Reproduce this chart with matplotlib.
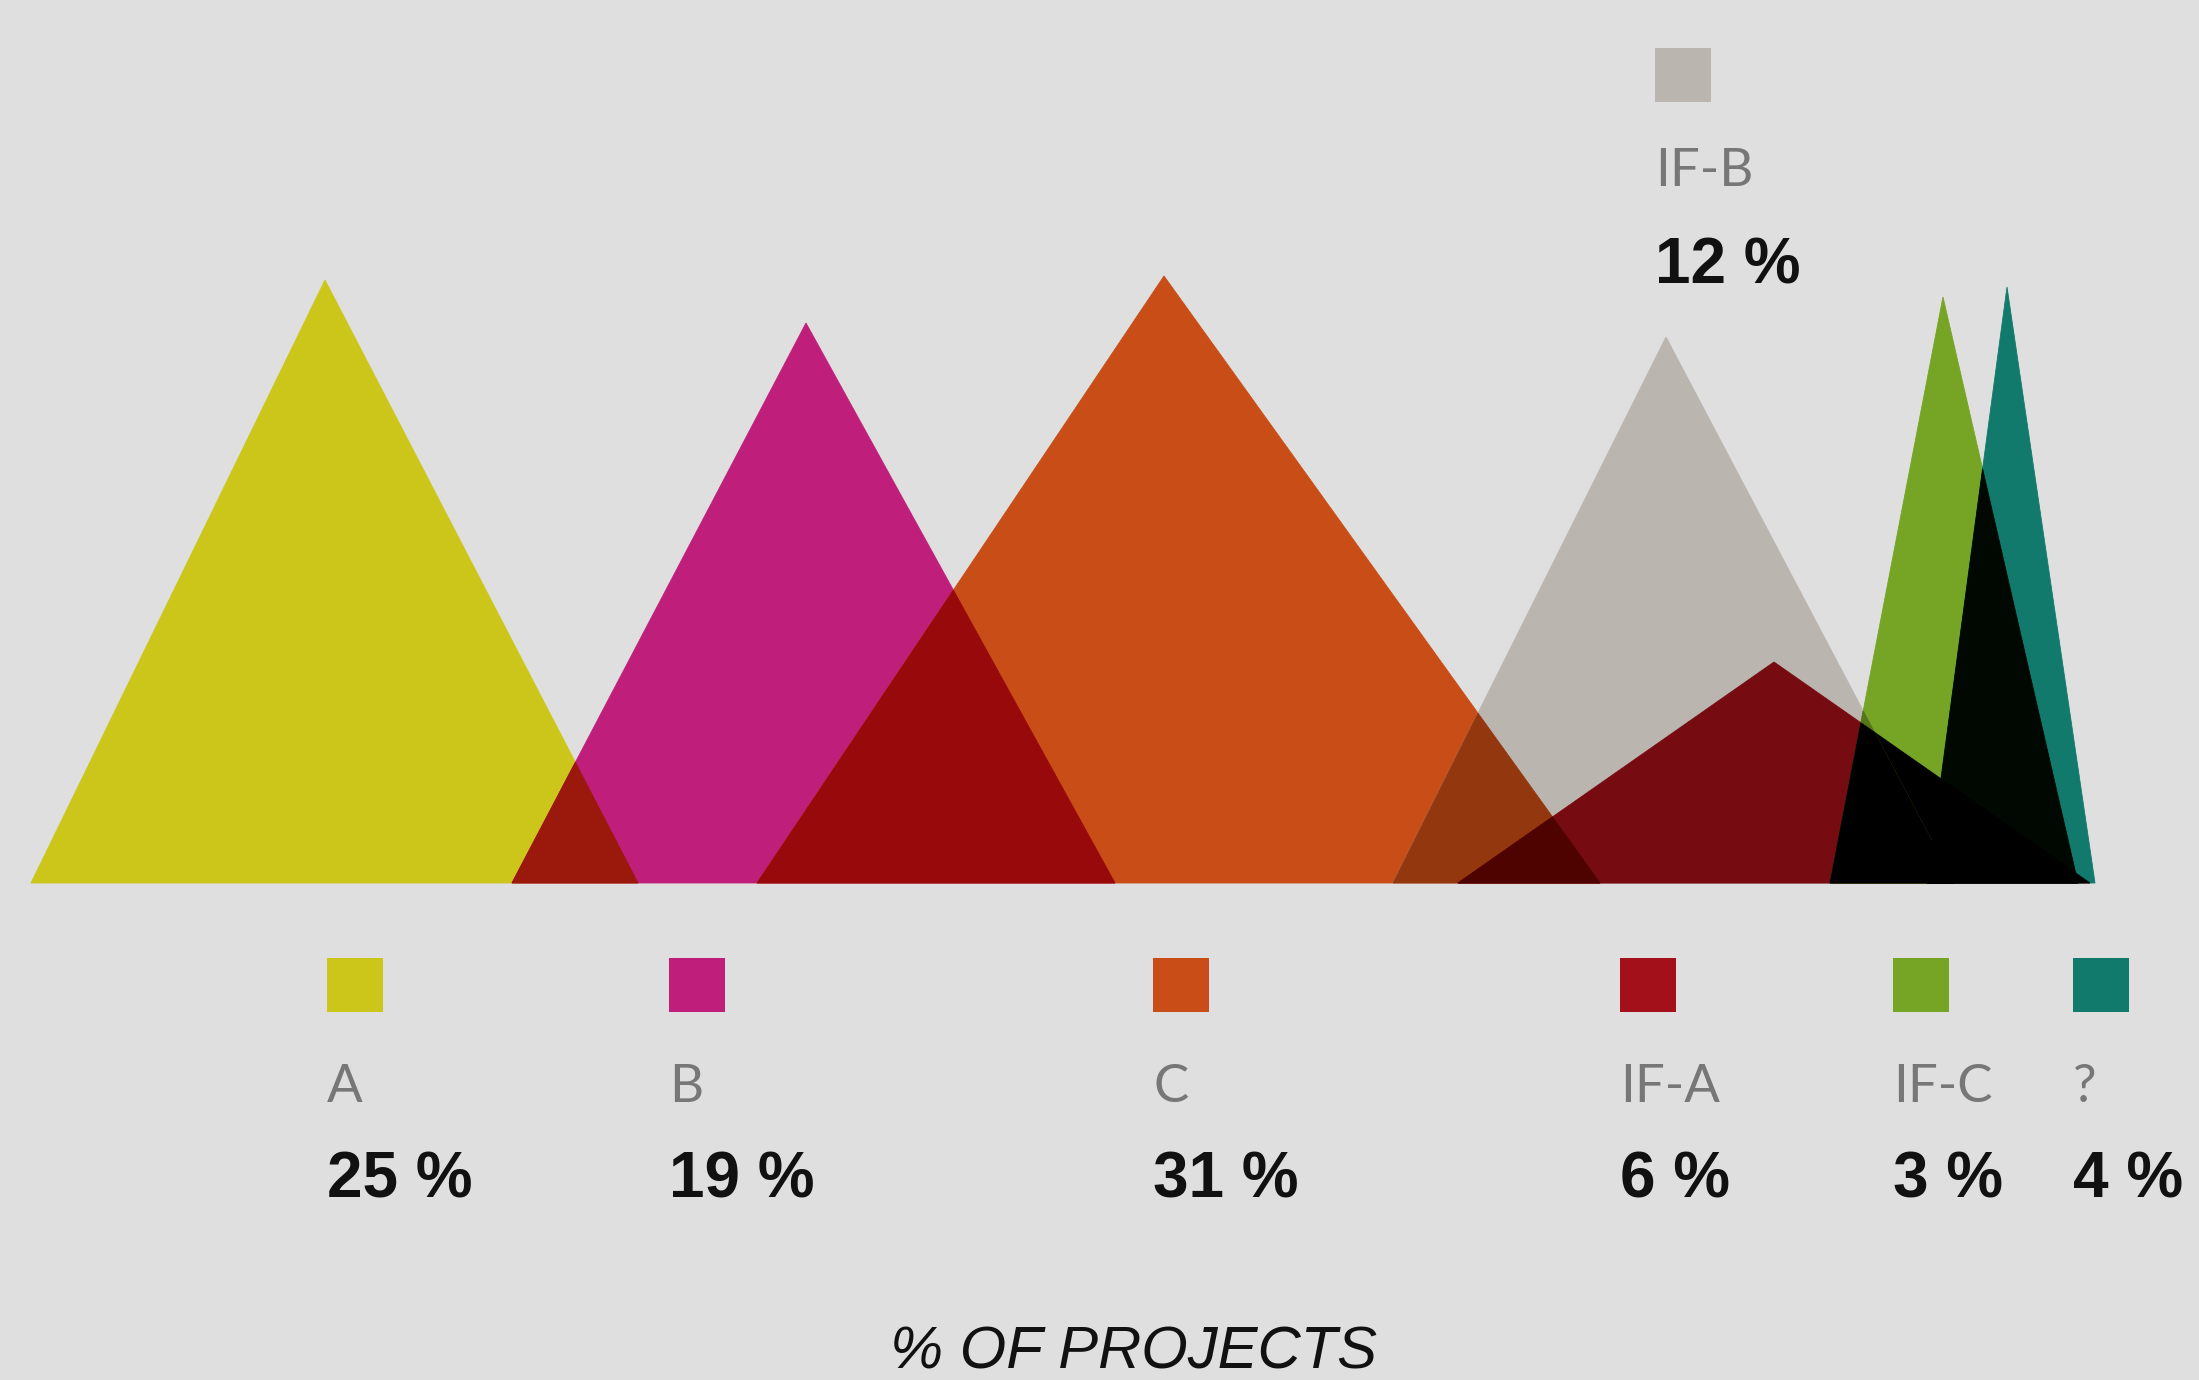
import itertools
import numpy as np
import matplotlib
matplotlib.use("Agg")
import matplotlib.pyplot as plt
from matplotlib.patches import Polygon, Rectangle
from matplotlib.colors import to_rgb

# ---------------- data ----------------
categories = ["A", "B", "C", "IF-A", "IF-B", "IF-C", "?"]
shares = [25, 19, 31, 6, 12, 3, 4]
# triangle geometry in chart units (baseline = 0)
tri_left = [31, 512, 757, 1458, 1393, 1830, 1927]
tri_peak = [325, 806, 1164, 1774, 1666, 1943, 2007]
tri_right = [638, 1115, 1600, 2090, 1954, 2078, 2095]
tri_height = [603, 560, 607, 221, 546, 586, 596]
colors = ["#cdc61a", "#bf1f7a", "#c94d16", "#a3101a", "#bab5ae", "#76a424", "#117a6c"]

# ---------------- layout ----------------
legend_x = [327, 669, 1153, 1620, 1655, 1893, 2073]
legend_low = [True, True, True, True, False, True, True]  # False -> upper block
BG = "#dedfde"
FAM = ["Liberation Sans Narrow", "Liberation Sans", "DejaVu Sans"]
FAM_LABEL = ["Lato", "Liberation Sans", "DejaVu Sans"]


def clip_poly(subject, clipper):
    """Sutherland-Hodgman clipping of a polygon by a convex CCW polygon."""
    out = list(subject)
    n = len(clipper)
    for i in range(n):
        a = np.array(clipper[i], dtype=float)
        b = np.array(clipper[(i + 1) % n], dtype=float)
        inp = out
        out = []
        if not inp:
            break

        def inside(p):
            return (b[0] - a[0]) * (p[1] - a[1]) - (b[1] - a[1]) * (p[0] - a[0]) >= 0

        def inter(p, q):
            p = np.array(p, dtype=float); q = np.array(q, dtype=float)
            d1 = p - q
            d2 = a - b
            denom = d1[0] * d2[1] - d1[1] * d2[0]
            t = ((p[0] - a[0]) * d2[1] - (p[1] - a[1]) * d2[0]) / denom
            return tuple(p - t * d1)

        s = inp[-1]
        for e in inp:
            if inside(e):
                if not inside(s):
                    out.append(inter(s, e))
                out.append(tuple(e))
            elif inside(s):
                out.append(inter(s, e))
            s = e
    return out


def area(poly):
    if len(poly) < 3:
        return 0.0
    p = np.array(poly)
    return 0.5 * abs(np.dot(p[:, 0], np.roll(p[:, 1], 1)) - np.dot(p[:, 1], np.roll(p[:, 0], 1)))


fig = plt.figure(figsize=(21.99, 13.80), dpi=100, facecolor=BG)
ax = fig.add_axes([0, 0, 1, 1])
ax.set_facecolor(BG)
ax.set_xlim(0, 2199)
ax.set_ylim(-497, 883)
ax.axis("off")

tris = [[(l, 0.0), (r, 0.0), (p, h)] for l, p, r, h in zip(tri_left, tri_peak, tri_right, tri_height)]
rgb = [np.array(to_rgb(c)) for c in colors]

# every overlap region gets a multiply-style blend (printed-ink look);
# dark mixes collapse to near black as in the printed original
for k in range(1, len(tris) + 1):
    for combo in itertools.combinations(range(len(tris)), k):
        poly = tris[combo[0]]
        for j in combo[1:]:
            poly = clip_poly(poly, tris[j])
            if len(poly) < 3:
                break
        if area(poly) < 1.0:
            continue
        col = np.prod([rgb[j] for j in combo], axis=0)
        if k >= 2:
            m = col.max()
            col = col * np.clip((m - 0.30) / 0.08, 0, 1)
        ax.add_patch(Polygon(poly, closed=True, facecolor=col, edgecolor=col,
                             linewidth=0.6, zorder=1 + k))

# legend blocks
sq_w, sq_h = 56, 54
for cat, share, col, x, low in zip(categories, shares, colors, legend_x, legend_low):
    if low:
        sq_y, lab_y, pct_y = -129, -205, -298
    else:
        sq_y, lab_y, pct_y = 781, 712, 617
    ax.add_patch(Rectangle((x, sq_y), sq_w, sq_h, facecolor=col, edgecolor="none", zorder=20))
    ax.text(x, lab_y, cat, family=FAM_LABEL, fontsize=38, fontweight="normal",
            color="#777777", ha="left", va="center", zorder=20)
    ax.text(x, pct_y, f"{share} %", family=FAM, fontsize=46, fontweight="bold",
            color="#111111", ha="left", va="center", zorder=20)

ax.text(1133, -470, "% OF PROJECTS", family=FAM, fontsize=43, style="italic",
        color="#111111", ha="center", va="center", zorder=20)

fig.savefig("out.png", dpi=100, facecolor=BG)
